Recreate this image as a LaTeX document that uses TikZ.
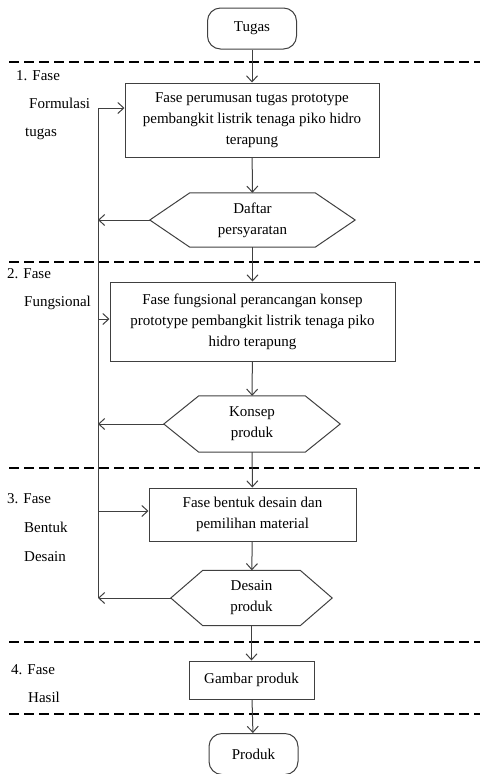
\documentclass[tikz,border=0pt]{standalone}
\usepackage{fontspec}
\setmainfont{Liberation Serif}
\usetikzlibrary{arrows.meta}
\definecolor{garis}{RGB}{64,64,64}
\tikzset{
    proses/.style={draw=garis, line width=1pt, align=center, inner sep=0pt},
    terminal/.style={draw=garis, line width=1pt, rounded corners=13pt, minimum width=89pt, minimum height=41pt, inner sep=0pt},
    hexnode/.style={align=center, inner sep=0pt},
    fase/.style={anchor=base west, inner sep=0pt},
    batas/.style={draw=black, line width=1.6pt, dash pattern=on 10pt off 5pt},
    panah/.style={draw=garis, line width=1pt, -{Straight Barb[length=6pt,width=11pt]}}
}
\newcommand{\hexbox}[2]{\draw[garis, line width=1pt] (#1.west) -- ([xshift=#2]#1.north west) -- ([xshift=-#2]#1.north east) -- (#1.east) -- ([xshift=-#2]#1.south east) -- ([xshift=#2]#1.south west) -- cycle;}
\begin{document}
\begin{tikzpicture}[x=1pt, y=-1pt, font=\fontsize{15pt}{21pt}\selectfont]
                    \useasboundingbox (0,0) rectangle (480,774);
                    \draw[batas] (9,62) -- (480,62);
                    \draw[batas] (9,262) -- (480,262);
                    \draw[batas] (9,468) -- (480,468);
                    \draw[batas] (9,642) -- (480,642);
                    \draw[batas] (9,714) -- (480,714);
                    \node[terminal] (tugas) at (252,28.5) {Tugas};
                    \node[proses, minimum width=254pt, minimum height=74pt] (b1) at (252,120) {Fase perumusan tugas prototype\\pembangkit listrik tenaga piko hidro\\terapung};
                    \node[hexnode, minimum width=205pt, minimum height=54pt] (h1) at (252.5,220) {Daftar\\persyaratan};
                    \node[proses, minimum width=285pt, minimum height=79pt] (b2) at (252.5,321.5) {Fase fungsional perancangan konsep\\prototype pembangkit listrik tenaga piko\\hidro terapung};
                    \node[hexnode, minimum width=176pt, minimum height=56pt] (h2) at (252,424) {Konsep\\produk};
                    \node[proses, minimum width=207pt, minimum height=53pt] (b3) at (252.5,514.5) {Fase bentuk desain dan\\pemilihan material};
                    \node[hexnode, minimum width=161pt, minimum height=55pt] (h3) at (251.5,598) {Desain\\produk};
                    \node[proses, minimum width=125pt, minimum height=38pt] (b4) at (251.5,680) {Gambar produk};
                    \node[terminal] (produk) at (253.5,754) {Produk};
                    \hexbox{h1}{40pt}
                    \hexbox{h2}{35pt}
                    \hexbox{h3}{32pt}
                    \draw[panah] (tugas) -- (b1);
                    \draw[panah] (b1) -- (h1);
                    \draw[panah] (h1) -- (b2);
                    \draw[panah] (b2) -- (h2);
                    \draw[panah] (h2) -- (b3);
                    \draw[panah] (b3) -- (h3);
                    \draw[panah] (h3) -- (b4);
                    \draw[panah] (b4) -- (produk);
                    \coordinate (atas) at (98,108);
                    \coordinate (bawah) at (98,598);
                    \draw[garis, line width=1pt] (atas) -- (bawah);
                    \draw[panah] (h1.west) -- (h1.west -| atas);
                    \draw[panah] (h2.west) -- (h2.west -| atas);
                    \draw[panah] (h3.west) -- (bawah);
                    \draw[panah] (atas) -- (atas -| b1.west);
                    \draw[panah] (98,319) -- (b2.west |- 0,319);
                    \draw[panah] (98,511) -- (b3.west |- 0,511);
                    \node[fase] (f1a) at (16,80) {1. Fase};
                    \node[fase] (f1b) at (29,108) {Formulasi};
                    \node[fase] (f1c) at (25,136) {tugas};
                    \node[fase] (f2a) at (7,278) {2. Fase};
                    \node[fase] (f2b) at (24,306) {Fungsional};
                    \node[fase] (f3a) at (7,503) {3. Fase};
                    \node[fase] (f3b) at (24,532) {Bentuk};
                    \node[fase] (f3c) at (24,561) {Desain};
                    \node[fase] (f4a) at (11,674) {4. Fase};
                    \node[fase] (f4b) at (28,702) {Hasil};
                \end{tikzpicture}
\end{document}
